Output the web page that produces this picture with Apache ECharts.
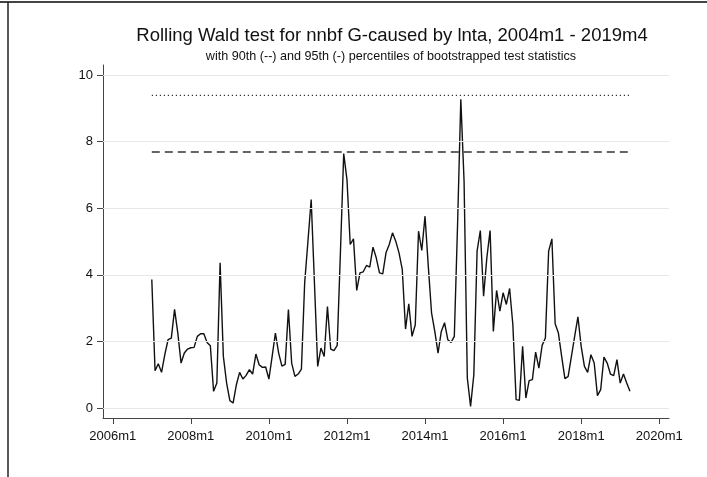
<!DOCTYPE html>
<html>
<head>
<meta charset="utf-8">
<script src="https://cdn.jsdelivr.net/npm/echarts@6/dist/echarts.min.js"></script>
<style>
  html, body { margin: 0; padding: 0; background: #fff; }
  #chart { width: 707px; height: 477px; }
</style>
</head>
<body>
<div id="chart"></div>
<script>
// Rolling Wald statistic, monthly, first window ending 2007m1
const startYear = 2007;
const startMonth = 1;
const waldStat = [
  3.86, 1.12, 1.33, 1.07, 1.60, 2.05, 2.10, 2.96, 2.25, 1.35, 1.65, 1.77,
  1.81, 1.82, 2.15, 2.23, 2.23, 1.97, 1.87, 0.50, 0.75, 4.36, 1.55, 0.75,
  0.22, 0.15, 0.70, 1.07, 0.87, 0.98, 1.15, 1.02, 1.62, 1.30, 1.22, 1.23,
  0.87, 1.55, 2.25, 1.65, 1.26, 1.31, 2.96, 1.35, 0.95, 1.02, 1.17, 3.76,
  5.00, 6.26, 3.76, 1.25, 1.80, 1.55, 3.05, 1.77, 1.72, 1.88, 4.70, 7.64,
  6.86, 4.91, 5.08, 3.53, 4.06, 4.09, 4.28, 4.23, 4.83, 4.51, 4.06, 4.03,
  4.66, 4.91, 5.26, 5.01, 4.66, 4.16, 2.37, 3.13, 2.15, 2.50, 5.31, 4.73,
  5.76, 4.26, 2.86, 2.30, 1.65, 2.30, 2.56, 2.05, 1.97, 2.15, 5.50, 9.27,
  6.81, 0.90, 0.05, 1.00, 4.71, 5.33, 3.36, 4.51, 5.33, 2.30, 3.53, 2.91,
  3.46, 3.11, 3.59, 2.50, 0.25, 0.23, 1.85, 0.30, 0.82, 0.85, 1.68, 1.20,
  1.88, 2.10, 4.71, 5.08, 2.53, 2.25, 1.55, 0.88, 0.95, 1.55, 2.15, 2.74,
  1.85, 1.25, 1.07, 1.60, 1.35, 0.37, 0.55, 1.53, 1.35, 1.02, 0.97, 1.45,
  0.75, 1.02, 0.75, 0.50
];
// Bootstrapped critical values
const pct90 = 7.69;
const pct95 = 9.39;

const xTickLabels = ['2006m1', '2008m1', '2010m1', '2012m1', '2014m1', '2016m1', '2018m1', '2020m1'];
const yTickValues = [0, 2, 4, 6, 8, 10];

// Stata-style monthly date: months elapsed since 2006m1
const BASE_YEAR = 2006;
function toMonthIndex(label) {
  const [y, m] = label.split('m').map(Number);
  return (y - BASE_YEAR) * 12 + (m - 1);
}
function fromMonthIndex(t) {
  const y = BASE_YEAR + Math.floor(t / 12);
  const m = (t % 12) + 1;
  return y + 'm' + m;
}

const periods = waldStat.map((_, i) => {
  const total = (startYear - BASE_YEAR) * 12 + (startMonth - 1) + i;
  return fromMonthIndex(total);
});
const waldData = periods.map((p, i) => [toMonthIndex(p), waldStat[i]]);
const tFirst = waldData[0][0];
const tLast = waldData[waldData.length - 1][0];
const xTickValues = xTickLabels.map(toMonthIndex);

const FONT = 'Liberation Sans, Arial, Helvetica, sans-serif';
const AXIS_COLOR = '#444';
const chart = echarts.init(document.getElementById('chart'), null, { renderer: 'canvas' });

chart.setOption({
  animation: false,
  backgroundColor: '#ffffff',
  title: [
    {
      text: 'Rolling Wald test for nnbf G-caused by lnta, 2004m1 - 2019m4',
      left: 387, top: 21, textAlign: 'center',
      textStyle: { fontFamily: FONT, fontSize: 18.5, fontWeight: 'normal', color: '#111' }
    },
    {
      text: 'with 90th (--) and 95th (-) percentiles of bootstrapped test statistics',
      left: 386, top: 45, textAlign: 'center',
      textStyle: { fontFamily: FONT, fontSize: 12.6, fontWeight: 'normal', color: '#111' }
    }
  ],
  graphic: [
    { type: 'line', shape: { x1: 0, y1: 2, x2: 707, y2: 2 }, style: { stroke: '#444', lineWidth: 2 } },
    { type: 'line', shape: { x1: 8, y1: 2, x2: 8, y2: 477 }, style: { stroke: '#222', lineWidth: 1.5 } }
  ],
  grid: { left: 103, right: 38, top: 65, bottom: 59 },
  xAxis: {
    type: 'value',
    min: -3, max: 171,
    axisLine: { show: true, onZero: false, lineStyle: { color: AXIS_COLOR, width: 1 } },
    axisTick: { show: true, length: 6, customValues: xTickValues, lineStyle: { color: AXIS_COLOR, width: 1 } },
    axisLabel: {
      customValues: xTickValues, margin: 12,
      fontFamily: FONT, fontSize: 13, color: '#111',
      formatter: v => fromMonthIndex(v)
    },
    splitLine: { show: false }
  },
  yAxis: {
    type: 'value',
    min: -0.3, max: 10.3,
    axisLine: { show: true, onZero: false, lineStyle: { color: AXIS_COLOR, width: 1 } },
    axisTick: { show: true, length: 6, customValues: yTickValues, lineStyle: { color: AXIS_COLOR, width: 1 } },
    axisLabel: { customValues: yTickValues, margin: 10, fontFamily: FONT, fontSize: 13, color: '#111' },
    splitLine: { show: false }
  },
  series: [
    {
      name: 'grid',
      type: 'line',
      data: [],
      silent: true,
      markLine: {
        silent: true,
        symbol: 'none',
        label: { show: false },
        lineStyle: { color: '#e8e8e8', width: 1, type: 'solid' },
        data: yTickValues.map(v => ({ yAxis: v }))
      },
      z: 1
    },
    {
      name: 'p95',
      type: 'line',
      data: [[tFirst, pct95], [tLast, pct95]],
      symbol: 'none',
      lineStyle: { color: '#333', width: 1.2, type: [1.2, 2.8] },
      z: 2
    },
    {
      name: 'p90',
      type: 'line',
      data: [[tFirst, pct90], [tLast, pct90]],
      symbol: 'none',
      lineStyle: { color: '#333', width: 1.5, type: [8, 5] },
      z: 2
    },
    {
      name: 'wald',
      type: 'line',
      data: waldData,
      symbol: 'none',
      lineStyle: { color: '#111', width: 1.4 },
      z: 3
    }
  ]
});
</script>
</body>
</html>
